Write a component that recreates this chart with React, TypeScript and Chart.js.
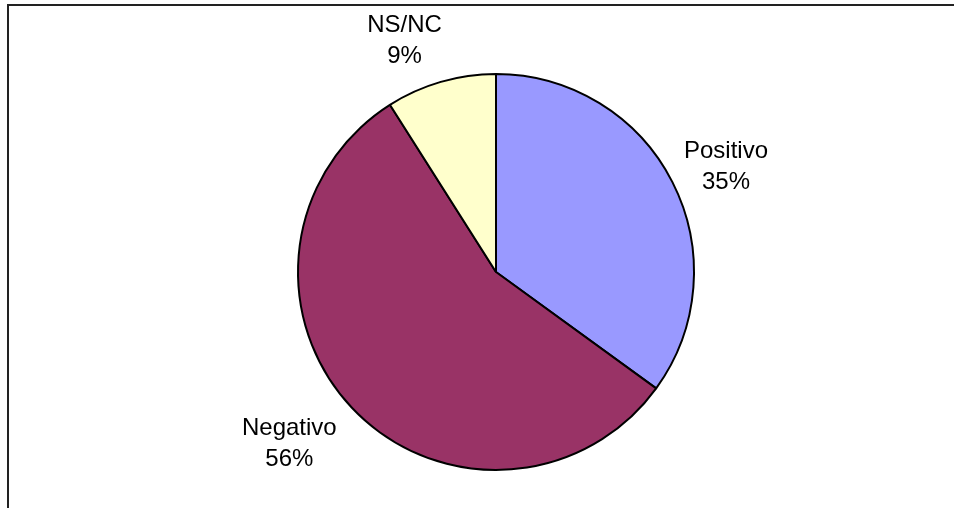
import React, { useEffect, useRef } from "react";
import { Chart, registerables } from "chart.js";

Chart.register(...registerables);

const categories = ["Positivo", "Negativo", "NS/NC"];
const values = [35, 56, 9];
const colors = ["#9999FF", "#993366", "#FFFFCC"];

const FONT = "24px 'Liberation Sans', Arial, sans-serif";
const LINE_H = 31;
const CAP_H = 17;
const PAD = 14;
// small per-label nudges (label placement only)
const labelNudgeX = [-2, -15, -23];
const labelNudgeY = [11, -10, 3];

const framePlugin = {
  id: "frame",
  beforeDraw(chart: any) {
    const ctx = chart.ctx;
    ctx.save();
    ctx.fillStyle = "#ffffff";
    ctx.fillRect(0, 0, chart.width, chart.height);
    ctx.fillStyle = "#222222";
    ctx.fillRect(7, 4, chart.width - 7, 2);
    ctx.fillRect(7, 4, 2, chart.height - 4);
    ctx.restore();
  },
};

const labelPlugin = {
  id: "sliceLabels",
  afterDraw(chart: any) {
    const ctx = chart.ctx;
    const meta = chart.getDatasetMeta(0);
    const total = values.reduce((a, b) => a + b, 0);
    ctx.save();
    ctx.font = FONT;
    ctx.fillStyle = "#000000";
    ctx.textAlign = "center";
    ctx.textBaseline = "alphabetic";
    meta.data.forEach((arc: any, i: number) => {
      const { x, y, startAngle, endAngle, outerRadius } = arc.getProps(
        ["x", "y", "startAngle", "endAngle", "outerRadius"],
        true
      );
      const mid = (startAngle + endAngle) / 2;
      const ux = Math.cos(mid);
      const uy = Math.sin(mid);
      const line1 = categories[i];
      const line2 = Math.round((values[i] / total) * 100) + "%";
      const w = Math.max(ctx.measureText(line1).width, ctx.measureText(line2).width);
      const h = CAP_H + LINE_H;
      const proj = Math.abs(ux) * (w / 2) + Math.abs(uy) * (h / 2);
      const d = outerRadius + PAD + proj;
      const cx = x + ux * d + labelNudgeX[i];
      const cy = y + uy * d + labelNudgeY[i];
      const b1 = cy - h / 2 + CAP_H;
      ctx.fillText(line1, cx, b1);
      ctx.fillText(line2, cx, b1 + LINE_H);
    });
    ctx.restore();
  },
};

export default function App() {
  const ref = useRef<HTMLCanvasElement | null>(null);
  useEffect(() => {
    if (!ref.current) return;
    const chart = new Chart(ref.current, {
      type: "pie",
      data: {
        labels: categories,
        datasets: [
          {
            data: values,
            backgroundColor: colors,
            borderColor: "#000000",
            borderWidth: 2,
          },
        ],
      },
      options: {
        responsive: false,
        animation: false,
        layout: { padding: { left: 297, right: 259, top: 73, bottom: 37 } },
        plugins: {
          legend: { display: false },
          tooltip: { enabled: false },
        },
      },
      plugins: [framePlugin, labelPlugin],
    });
    return () => chart.destroy();
  }, []);
  return (
    <div style={{ position: "fixed", left: 0, top: 0, width: 954, height: 508, background: "#fff" }}>
      <canvas ref={ref} width={954} height={508} style={{ width: 954, height: 508 }} />
    </div>
  );
}
